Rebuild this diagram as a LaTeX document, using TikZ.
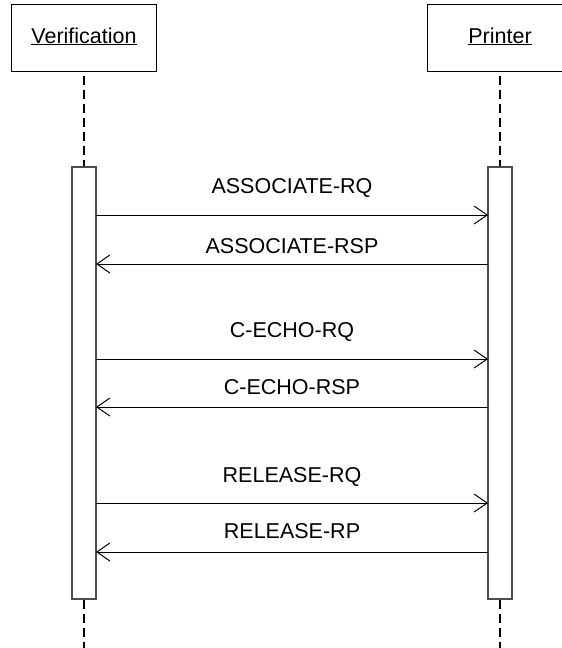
\documentclass[tikz,border=0pt]{standalone}
\usepackage{fontspec}
\setmainfont{Liberation Sans}
\usepackage{tikz}
\usetikzlibrary{calc,arrows.meta}
\newcommand{\unitsize}{1pt}
\newcommand{\makemsg}[6]{
	\coordinate (#1from) at ($(#2)+(0,#4)$);
	\coordinate (#1to) at ($(#3)+(0,#4)$);
	\draw[msgline] (#1from) -- (#1to);
	\node[anchor=base] (#1) at (292,#5) {#6};
}

\begin{document}
\begin{tikzpicture}[x=\unitsize,y=-\unitsize,
	font=\fontsize{21.5}{25}\selectfont,
	head/.style={draw, line width=1pt, minimum width=145pt, minimum height=67pt, inner sep=0pt},
	bar/.style={draw=black!70, line width=1.5pt, fill=white, minimum width=24pt, minimum height=432pt, inner sep=0pt},
	lifeline/.style={line width=2pt, dash pattern=on 9pt off 5pt},
	msgline/.style={line width=1pt, -{Straight Barb[length=13pt,width=18pt,line width=1pt]}}]
	\useasboundingbox (0,0) rectangle (562,648);
	\clip (0,0) rectangle (562,648);

	\node[head] (Vhead) at (84,37.5) {};
	\node[head] (Phead) at (500,37.5) {};
	\node[anchor=base] (Vname) at (84,43) {\underline{Verification}};
	\node[anchor=base] (Pname) at (500,43) {\underline{Printer}};

	\node[bar] (Vbar) at (84,383) {};
	\node[bar] (Pbar) at (500,383) {};
	\coordinate (Vend) at (84,650);
	\coordinate (Pend) at (500,650);

	\draw[lifeline] ($(Vhead.south)+(0,4)$) -- (Vbar.north);
	\draw[lifeline] ($(Phead.south)+(0,4)$) -- (Pbar.north);
	\draw[lifeline] (Vbar.south) -- (Vend);
	\draw[lifeline] (Pbar.south) -- (Pend);

	\coordinate (VR) at (96,0);
	\coordinate (PL) at (488,0);
	\makemsg{AssocRq}{VR}{PL}{215}{193}{ASSOCIATE-RQ}
	\makemsg{AssocRsp}{PL}{VR}{264}{253}{ASSOCIATE-RSP}
	\makemsg{EchoRq}{VR}{PL}{359}{337}{C-ECHO-RQ}
	\makemsg{EchoRsp}{PL}{VR}{407}{394}{C-ECHO-RSP}
	\makemsg{RelRq}{VR}{PL}{503}{482}{RELEASE-RQ}
	\makemsg{RelRp}{PL}{VR}{552}{538}{RELEASE-RP}
\end{tikzpicture}
\end{document}
